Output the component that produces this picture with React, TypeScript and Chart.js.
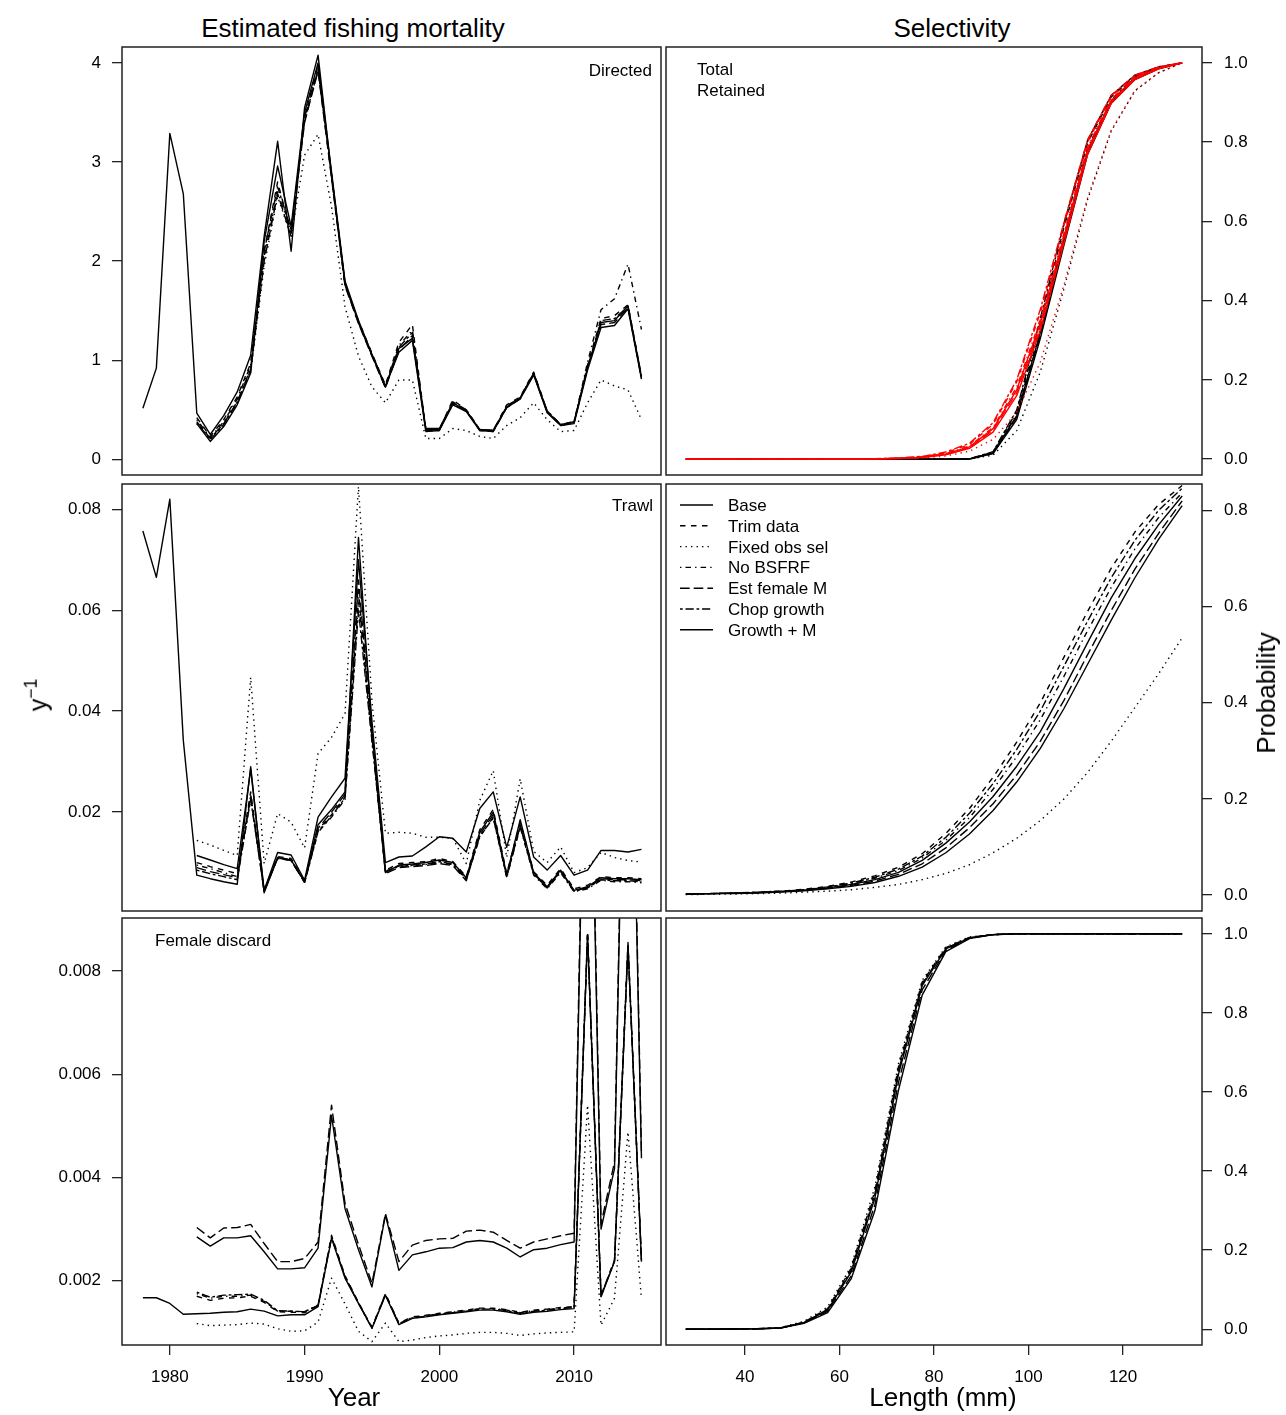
import React, { useEffect, useRef } from "react";
import { Chart, registerables } from "chart.js";
Chart.register(...registerables);

const FONT = '"Liberation Sans", Arial, Helvetica, sans-serif';

// ---------- categories / ticks ----------
const YEARS = [1978, 1979, 1980, 1981, 1982, 1983, 1984, 1985, 1986, 1987, 1988, 1989, 1990, 1991, 1992, 1993, 1994, 1995, 1996, 1997, 1998, 1999, 2000, 2001, 2002, 2003, 2004, 2005, 2006, 2007, 2008, 2009, 2010, 2011, 2012, 2013, 2014, 2015];
const LENGTHS = [27.5, 32.5, 37.5, 42.5, 47.5, 52.5, 57.5, 62.5, 67.5, 72.5, 77.5, 82.5, 87.5, 92.5, 97.5, 102.5, 107.5, 112.5, 117.5, 122.5, 127.5, 132.5];
const SERIES_NAMES = ["Base", "Trim data", "Fixed obs sel", "No BSFRF", "Est female M", "Chop growth", "Growth + M"];
const YEAR_TICKS = [1980, 1990, 2000, 2010];
const LEN_TICKS = [40, 60, 80, 100, 120];
const DIR_TICKS = [0, 1, 2, 3, 4];
const TRW_TICKS = [0.02, 0.04, 0.06, 0.08];
const FEM_TICKS = [0.002, 0.004, 0.006, 0.008];
const SEL_TICKS_A = [0, 0.2, 0.4, 0.6, 0.8, 1.0];
const SEL_TICKS_B = [0, 0.2, 0.4, 0.6, 0.8];

const N = null;

// ---------- Directed fishery F ----------
const DIR_BASE = [0.515, 0.92, 3.29, 2.68, 0.465, 0.25, 0.44, 0.68, 1.05, 2.25, 3.21, 2.10, 3.55, 4.08, 2.88, 1.78, 1.38, 1.05, 0.73, 1.12, 1.22, 0.31, 0.31, 0.57, 0.49, 0.30, 0.29, 0.53, 0.62, 0.87, 0.48, 0.35, 0.38, 0.92, 1.38, 1.40, 1.55, 0.83];
const DIR_TRIM = [N, N, N, N, 0.42, 0.23, 0.40, 0.63, 0.97, 2.10, 2.80, 2.28, 3.45, 3.98, 2.85, 1.76, 1.40, 1.07, 0.75, 1.18, 1.36, 0.30, 0.30, 0.60, 0.50, 0.30, 0.29, 0.55, 0.63, 0.88, 0.49, 0.35, 0.37, 0.95, 1.42, 1.45, 1.56, 0.84];
const DIR_FIXED = [N, N, N, N, 0.36, 0.20, 0.37, 0.58, 0.88, 1.95, 2.65, 2.25, 3.07, 3.28, 2.55, 1.54, 1.04, 0.73, 0.57, 0.80, 0.80, 0.21, 0.21, 0.31, 0.29, 0.23, 0.21, 0.34, 0.42, 0.57, 0.40, 0.28, 0.29, 0.57, 0.80, 0.74, 0.70, 0.40];
const DIR_NOBSFRF = [N, N, N, N, 0.40, 0.22, 0.38, 0.61, 0.95, 2.05, 2.70, 2.30, 3.45, 3.95, 2.86, 1.77, 1.39, 1.06, 0.74, 1.15, 1.30, 0.30, 0.30, 0.58, 0.50, 0.30, 0.29, 0.54, 0.62, 0.87, 0.49, 0.35, 0.38, 0.98, 1.51, 1.62, 1.97, 1.31];
const DIR_ESTM = [N, N, N, N, 0.38, 0.21, 0.36, 0.58, 0.90, 2.00, 2.68, 2.25, 3.40, 3.92, 2.84, 1.75, 1.37, 1.04, 0.72, 1.10, 1.25, 0.29, 0.29, 0.58, 0.49, 0.29, 0.28, 0.52, 0.61, 0.86, 0.48, 0.34, 0.37, 0.93, 1.36, 1.38, 1.53, 0.82];
const DIR_CHOP = [N, N, N, N, 0.37, 0.20, 0.35, 0.57, 0.92, 2.10, 2.75, 2.32, 3.42, 3.93, 2.87, 1.76, 1.38, 1.05, 0.73, 1.13, 1.28, 0.30, 0.30, 0.56, 0.49, 0.30, 0.29, 0.53, 0.62, 0.86, 0.48, 0.35, 0.37, 0.93, 1.40, 1.42, 1.54, 0.84];
const DIR_GROWM = [N, N, N, N, 0.36, 0.18, 0.33, 0.55, 0.87, 2.20, 2.96, 2.35, 3.50, 4.00, 2.90, 1.80, 1.40, 1.06, 0.74, 1.08, 1.20, 0.28, 0.29, 0.55, 0.48, 0.29, 0.28, 0.52, 0.61, 0.85, 0.47, 0.34, 0.36, 0.90, 1.33, 1.35, 1.52, 0.81];

// ---------- Trawl F ----------
const TRW_BASE = [0.0757, 0.0665, 0.0820, 0.0342, 0.0075, 0.0068, 0.0062, 0.0057, 0.0290, 0.0040, 0.0110, 0.0105, 0.0062, 0.0175, 0.0205, 0.0240, 0.0744, 0.0360, 0.0080, 0.0095, 0.0097, 0.0100, 0.0105, 0.0100, 0.0070, 0.0160, 0.0200, 0.0075, 0.0185, 0.0080, 0.0052, 0.0085, 0.0045, 0.0052, 0.0070, 0.0068, 0.0068, 0.0066];
const TRW_TRIM = [N, N, N, N, 0.0100, 0.0092, 0.0085, 0.0078, 0.0240, 0.0042, 0.0112, 0.0108, 0.0063, 0.0165, 0.0195, 0.0230, 0.0640, 0.0350, 0.0085, 0.0098, 0.0100, 0.0102, 0.0108, 0.0102, 0.0072, 0.0165, 0.0205, 0.0078, 0.0180, 0.0082, 0.0055, 0.0088, 0.0048, 0.0055, 0.0072, 0.0070, 0.0070, 0.0068];
const TRW_FIXED = [N, N, N, N, 0.0144, 0.0135, 0.0124, 0.0114, 0.0467, 0.0098, 0.0197, 0.0180, 0.0129, 0.0316, 0.0348, 0.0395, 0.0845, 0.0420, 0.0158, 0.0160, 0.0158, 0.0150, 0.0150, 0.0148, 0.0098, 0.0223, 0.0282, 0.0110, 0.0266, 0.0122, 0.0100, 0.0131, 0.0080, 0.0090, 0.0120, 0.0110, 0.0104, 0.0101];
const TRW_NOBSFRF = [N, N, N, N, 0.0095, 0.0088, 0.0080, 0.0072, 0.0235, 0.0045, 0.0110, 0.0106, 0.0060, 0.0160, 0.0190, 0.0225, 0.0620, 0.0345, 0.0083, 0.0092, 0.0094, 0.0096, 0.0100, 0.0096, 0.0066, 0.0150, 0.0190, 0.0070, 0.0170, 0.0075, 0.0048, 0.0080, 0.0042, 0.0048, 0.0065, 0.0062, 0.0062, 0.0060];
const TRW_ESTM = [N, N, N, N, 0.0090, 0.0082, 0.0076, 0.0070, 0.0230, 0.0043, 0.0108, 0.0104, 0.0061, 0.0168, 0.0200, 0.0235, 0.0660, 0.0355, 0.0078, 0.0090, 0.0092, 0.0094, 0.0098, 0.0094, 0.0064, 0.0155, 0.0195, 0.0072, 0.0175, 0.0078, 0.0050, 0.0083, 0.0044, 0.0050, 0.0068, 0.0066, 0.0066, 0.0064];
const TRW_CHOP = [N, N, N, N, 0.0085, 0.0078, 0.0072, 0.0066, 0.0225, 0.0044, 0.0109, 0.0104, 0.0061, 0.0162, 0.0192, 0.0228, 0.0600, 0.0340, 0.0082, 0.0093, 0.0095, 0.0097, 0.0102, 0.0097, 0.0068, 0.0152, 0.0188, 0.0073, 0.0172, 0.0077, 0.0050, 0.0082, 0.0043, 0.0050, 0.0066, 0.0064, 0.0064, 0.0062];
const TRW_GROWM = [N, N, N, N, 0.0114, 0.0105, 0.0096, 0.0088, 0.0285, 0.0045, 0.0120, 0.0115, 0.0065, 0.0190, 0.0230, 0.0267, 0.0700, 0.0380, 0.0100, 0.0111, 0.0113, 0.0131, 0.0151, 0.0148, 0.0121, 0.0207, 0.0240, 0.0130, 0.0230, 0.0111, 0.0085, 0.0114, 0.0075, 0.0085, 0.0124, 0.0124, 0.0121, 0.0126];

// ---------- Female discard F ----------
const FEM_BASE = [0.00167, 0.00167, 0.00156, 0.00135, 0.00136, 0.00137, 0.00139, 0.00140, 0.00145, 0.00141, 0.00132, 0.00134, 0.00134, 0.00150, 0.00282, 0.00205, 0.00156, 0.00108, 0.00172, 0.00115, 0.00127, 0.00130, 0.00134, 0.00137, 0.00140, 0.00143, 0.00143, 0.00140, 0.00135, 0.00139, 0.00141, 0.00144, 0.00146, 0.00870, 0.00169, 0.00237, 0.00850, 0.00237];
const FEM_TRIM = [N, N, N, N, 0.00170, 0.00162, 0.00166, 0.00167, 0.00170, 0.00158, 0.00140, 0.00139, 0.00138, 0.00152, 0.00288, 0.00210, 0.00158, 0.00110, 0.00175, 0.00118, 0.00130, 0.00133, 0.00137, 0.00140, 0.00143, 0.00147, 0.00147, 0.00144, 0.00139, 0.00143, 0.00145, 0.00148, 0.00150, 0.00875, 0.00172, 0.00240, 0.00855, 0.00240];
const FEM_FIXED = [N, N, N, N, 0.00117, 0.00113, 0.00114, 0.00115, 0.00118, 0.00116, 0.00107, 0.00102, 0.00103, 0.00120, 0.00205, 0.00155, 0.00102, 0.00082, 0.00118, 0.00082, 0.00085, 0.00090, 0.00093, 0.00095, 0.00098, 0.00100, 0.00100, 0.00098, 0.00094, 0.00097, 0.00099, 0.00100, 0.00101, 0.00540, 0.00114, 0.00166, 0.00488, 0.00165];
const FEM_NOBSFRF = [N, N, N, N, 0.00175, 0.00166, 0.00170, 0.00170, 0.00172, 0.00160, 0.00141, 0.00141, 0.00140, 0.00153, 0.00285, 0.00208, 0.00157, 0.00109, 0.00174, 0.00117, 0.00129, 0.00132, 0.00136, 0.00139, 0.00142, 0.00146, 0.00146, 0.00143, 0.00138, 0.00142, 0.00144, 0.00147, 0.00149, 0.00872, 0.00171, 0.00239, 0.00852, 0.00239];
const FEM_ESTM = [N, N, N, N, 0.00303, 0.00283, 0.00302, 0.00303, 0.00309, 0.00272, 0.00237, 0.00237, 0.00243, 0.00275, 0.00540, 0.00350, 0.00270, 0.00195, 0.00330, 0.00237, 0.00269, 0.00278, 0.00281, 0.00282, 0.00296, 0.00298, 0.00294, 0.00278, 0.00263, 0.00275, 0.00281, 0.00287, 0.00292, 0.01650, 0.00310, 0.00430, 0.01750, 0.00445];
const FEM_CHOP = [N, N, N, N, 0.00178, 0.00168, 0.00172, 0.00173, 0.00174, 0.00162, 0.00142, 0.00141, 0.00140, 0.00152, 0.00284, 0.00207, 0.00156, 0.00108, 0.00173, 0.00116, 0.00128, 0.00131, 0.00135, 0.00138, 0.00141, 0.00145, 0.00145, 0.00142, 0.00137, 0.00141, 0.00143, 0.00146, 0.00148, 0.00868, 0.00170, 0.00238, 0.00848, 0.00238];
const FEM_GROWM = [N, N, N, N, 0.00285, 0.00267, 0.00283, 0.00283, 0.00287, 0.00256, 0.00223, 0.00223, 0.00225, 0.00263, 0.00520, 0.00340, 0.00260, 0.00188, 0.00327, 0.00220, 0.00250, 0.00256, 0.00263, 0.00264, 0.00275, 0.00278, 0.00275, 0.00263, 0.00246, 0.00260, 0.00263, 0.00270, 0.00275, 0.01600, 0.00300, 0.00417, 0.01700, 0.00437];

// ---------- Directed selectivity: total (red) ----------
const TOT_BASE = [0, 0, 0, 0, 0, 0, 0.0001, 0.0003, 0.0008, 0.002, 0.005, 0.013, 0.031, 0.077, 0.175, 0.343, 0.562, 0.781, 0.905, 0.962, 0.987, 1.0];
const TOT_TRIM = [0, 0, 0, 0, 0, 0, 0.0001, 0.0004, 0.001, 0.0025, 0.006, 0.016, 0.037, 0.088, 0.195, 0.370, 0.590, 0.800, 0.915, 0.967, 0.989, 1.0];
const TOT_FIXED = [0, 0, 0, 0, 0, 0, 0, 0.0001, 0.0005, 0.0013, 0.0032, 0.008, 0.020, 0.050, 0.118, 0.245, 0.440, 0.660, 0.830, 0.930, 0.975, 1.0];
const TOT_NOBSFRF = [0, 0, 0, 0, 0, 0, 0.0001, 0.0003, 0.0009, 0.0022, 0.0055, 0.014, 0.033, 0.080, 0.182, 0.352, 0.570, 0.787, 0.908, 0.964, 0.988, 1.0];
const TOT_ESTM = [0, 0, 0, 0, 0, 0, 0.0001, 0.0003, 0.0008, 0.002, 0.005, 0.012, 0.029, 0.073, 0.168, 0.335, 0.555, 0.776, 0.902, 0.960, 0.986, 1.0];
const TOT_CHOP = [0, 0, 0, 0, 0, 0, 0.0001, 0.0004, 0.0011, 0.0028, 0.007, 0.018, 0.040, 0.092, 0.200, 0.378, 0.598, 0.806, 0.918, 0.969, 0.990, 1.0];
const TOT_GROWM = [0, 0, 0, 0, 0, 0, 0, 0.0002, 0.0006, 0.0016, 0.004, 0.011, 0.027, 0.068, 0.160, 0.325, 0.545, 0.770, 0.898, 0.958, 0.985, 1.0];

// ---------- Directed selectivity: retained (black) ----------
const RET_BASE = [0, 0, 0, 0, 0, 0, 0, 0, 0, 0, 0, 0, 0.0005, 0.016, 0.110, 0.320, 0.555, 0.779, 0.904, 0.962, 0.987, 1.0];
const RET_TRIM = [0, 0, 0, 0, 0, 0, 0, 0, 0, 0, 0, 0, 0.0006, 0.018, 0.120, 0.345, 0.585, 0.798, 0.914, 0.967, 0.989, 1.0];
const RET_FIXED = [0, 0, 0, 0, 0, 0, 0, 0, 0, 0, 0, 0, 0.0003, 0.010, 0.072, 0.220, 0.430, 0.655, 0.828, 0.929, 0.975, 1.0];
const RET_NOBSFRF = [0, 0, 0, 0, 0, 0, 0, 0, 0, 0, 0, 0, 0.0005, 0.017, 0.114, 0.330, 0.565, 0.786, 0.907, 0.964, 0.988, 1.0];
const RET_ESTM = [0, 0, 0, 0, 0, 0, 0, 0, 0, 0, 0, 0, 0.0005, 0.015, 0.106, 0.315, 0.550, 0.775, 0.902, 0.960, 0.986, 1.0];
const RET_CHOP = [0, 0, 0, 0, 0, 0, 0, 0, 0, 0, 0, 0, 0.0006, 0.019, 0.124, 0.355, 0.595, 0.805, 0.918, 0.969, 0.990, 1.0];
const RET_GROWM = [0, 0, 0, 0, 0, 0, 0, 0, 0, 0, 0, 0, 0.0004, 0.014, 0.100, 0.305, 0.540, 0.769, 0.898, 0.958, 0.985, 1.0];

// ---------- Trawl selectivity ----------
const STR_BASE = [0.002, 0.003, 0.004, 0.005, 0.007, 0.010, 0.015, 0.022, 0.032, 0.047, 0.072, 0.108, 0.152, 0.205, 0.268, 0.340, 0.430, 0.525, 0.618, 0.700, 0.770, 0.830];
const STR_TRIM = [0.002, 0.003, 0.004, 0.006, 0.008, 0.012, 0.018, 0.027, 0.040, 0.058, 0.086, 0.128, 0.180, 0.245, 0.318, 0.400, 0.495, 0.590, 0.680, 0.755, 0.812, 0.852];
const STR_FIXED = [0.001, 0.0015, 0.002, 0.003, 0.004, 0.006, 0.008, 0.011, 0.016, 0.022, 0.032, 0.045, 0.063, 0.088, 0.118, 0.155, 0.200, 0.255, 0.320, 0.390, 0.460, 0.535];
const STR_NOBSFRF = [0.002, 0.003, 0.004, 0.005, 0.007, 0.011, 0.016, 0.024, 0.035, 0.051, 0.077, 0.114, 0.161, 0.220, 0.288, 0.365, 0.455, 0.550, 0.640, 0.720, 0.785, 0.837];
const STR_ESTM = [0.002, 0.003, 0.004, 0.005, 0.007, 0.010, 0.014, 0.020, 0.029, 0.043, 0.065, 0.098, 0.140, 0.190, 0.250, 0.320, 0.405, 0.500, 0.592, 0.678, 0.752, 0.820];
const STR_CHOP = [0.002, 0.003, 0.004, 0.006, 0.008, 0.011, 0.017, 0.025, 0.037, 0.054, 0.081, 0.120, 0.170, 0.232, 0.303, 0.383, 0.476, 0.570, 0.660, 0.738, 0.800, 0.846];
const STR_GROWM = [0.002, 0.003, 0.003, 0.004, 0.006, 0.009, 0.013, 0.018, 0.026, 0.039, 0.058, 0.088, 0.127, 0.176, 0.235, 0.305, 0.388, 0.480, 0.572, 0.660, 0.740, 0.810];

// ---------- Female discard selectivity ----------
const SFE_BASE = [0, 0, 0.0005, 0.001, 0.003, 0.017, 0.048, 0.145, 0.332, 0.645, 0.869, 0.962, 0.990, 0.998, 1.0, 1.0, 1.0, 1.0, 1.0, 1.0, 1.0, 1.0];
const SFE_TRIM = [0, 0, 0.0005, 0.001, 0.003, 0.018, 0.052, 0.155, 0.350, 0.665, 0.878, 0.965, 0.991, 0.998, 1.0, 1.0, 1.0, 1.0, 1.0, 1.0, 1.0, 1.0];
const SFE_FIXED = [0, 0, 0.0006, 0.0012, 0.004, 0.020, 0.056, 0.160, 0.360, 0.672, 0.882, 0.967, 0.992, 0.998, 1.0, 1.0, 1.0, 1.0, 1.0, 1.0, 1.0, 1.0];
const SFE_NOBSFRF = [0, 0, 0.0005, 0.001, 0.003, 0.017, 0.049, 0.148, 0.338, 0.652, 0.872, 0.963, 0.990, 0.998, 1.0, 1.0, 1.0, 1.0, 1.0, 1.0, 1.0, 1.0];
const SFE_ESTM = [0, 0, 0.0005, 0.001, 0.003, 0.016, 0.045, 0.135, 0.315, 0.625, 0.858, 0.958, 0.989, 0.998, 1.0, 1.0, 1.0, 1.0, 1.0, 1.0, 1.0, 1.0];
const SFE_CHOP = [0, 0, 0.0005, 0.001, 0.003, 0.017, 0.050, 0.150, 0.342, 0.655, 0.874, 0.963, 0.990, 0.998, 1.0, 1.0, 1.0, 1.0, 1.0, 1.0, 1.0, 1.0];
const SFE_GROWM = [0, 0, 0.0004, 0.0009, 0.0028, 0.015, 0.042, 0.128, 0.300, 0.605, 0.845, 0.955, 0.988, 0.998, 1.0, 1.0, 1.0, 1.0, 1.0, 1.0, 1.0, 1.0];

// ---------- styles ----------
const DASHES: number[][] = [
  [],                       // solid
  [5.5, 5.5],               // dashed
  [1.4, 4.1],               // dotted
  [1.4, 4.1, 5.5, 4.1],     // dotdash
  [9.6, 4.1],               // longdash
  [2.75, 2.75, 8.25, 2.75], // twodash
  [],                       // solid
];
const LINE_W = 1.4;

type Series = (number | null)[];

function makeSets(xs: number[], series: Series[], color: string) {
  return series.map((s, i) => ({
    label: SERIES_NAMES[i],
    data: xs.map((x, j) => ({ x, y: s[j] })).filter((p) => p.y !== null),
    borderColor: color,
    borderWidth: LINE_W,
    borderDash: DASHES[i],
    borderJoinStyle: "round" as const,
    pointRadius: 0,
    fill: false,
    tension: 0,
  }));
}

const boxPlugin = {
  id: "box",
  afterDatasetsDraw(chart: any) {
    const { ctx, chartArea } = chart;
    ctx.save();
    ctx.setLineDash([]);
    ctx.strokeStyle = "#222";
    ctx.lineWidth = 1.5;
    ctx.strokeRect(chartArea.left, chartArea.top, chartArea.right - chartArea.left, chartArea.bottom - chartArea.top);
    ctx.restore();
  },
};

const legendPlugin = {
  id: "legendLines",
  afterDatasetsDraw(chart: any) {
    const { ctx, chartArea } = chart;
    ctx.save();
    ctx.strokeStyle = "#000";
    ctx.lineWidth = LINE_W;
    SERIES_NAMES.forEach((_, i) => {
      const y = chartArea.top + 21 + i * 20.8;
      ctx.setLineDash(DASHES[i]);
      ctx.beginPath();
      ctx.moveTo(chartArea.left + 14, y);
      ctx.lineTo(chartArea.left + 47, y);
      ctx.stroke();
    });
    ctx.restore();
  },
};

type PanelSpec = {
  left: number; top: number; width: number; height: number;
  datasets: any[];
  xMin: number; xMax: number; xTicks: number[]; showX: boolean;
  yMin: number; yMax: number; yTicks: number[]; yDec: number; yPos: "left" | "right";
  yAxisW: number; xAxisH: number;
  pad: { left: number; right: number; top: number; bottom: number };
  extra?: any[];
};

const tickFont = { family: FONT, size: 17 };

function zeroPad(axis: any) {
  axis.paddingTop = 0;
  axis.paddingBottom = 0;
  axis.paddingLeft = 0;
  axis.paddingRight = 0;
}

function Panel(p: PanelSpec) {
  const ref = useRef<HTMLCanvasElement>(null);
  useEffect(() => {
    const grid = { drawOnChartArea: false, drawTicks: true, tickLength: 10, color: "#222", lineWidth: 1.3 };
    const xScale: any = {
      type: "linear", min: p.xMin, max: p.xMax, display: p.showX, position: "bottom",
      grid, border: { display: false },
      ticks: { font: tickFont, color: "#000", padding: 12, maxRotation: 0, autoSkip: false, callback: (v: number) => String(v) },
      afterBuildTicks: (axis: any) => { axis.ticks = p.xTicks.map((v) => ({ value: v })); },
      afterFit: (axis: any) => { zeroPad(axis); if (p.showX) axis.height = p.xAxisH; },
    };
    const chart = new Chart(ref.current as HTMLCanvasElement, {
      type: "line",
      data: { datasets: p.datasets },
      options: {
        responsive: false,
        maintainAspectRatio: false,
        animation: false,
        devicePixelRatio: 1,
        events: [],
        layout: { padding: p.pad },
        plugins: { legend: { display: false }, tooltip: { enabled: false } },
        scales: {
          x: xScale,
          y: {
            type: "linear", position: p.yPos, min: p.yMin, max: p.yMax,
            grid, border: { display: false },
            ticks: { font: tickFont, color: "#000", padding: p.yPos === "left" ? 11 : 12, callback: (v: number) => Number(v).toFixed(p.yDec) },
            afterBuildTicks: (axis: any) => { axis.ticks = p.yTicks.map((v) => ({ value: v })); },
            afterFit: (axis: any) => { zeroPad(axis); axis.width = p.yAxisW; },
          } as any,
        },
      } as any,
      plugins: [boxPlugin, ...(p.extra || [])],
    });
    return () => chart.destroy();
  }, []);
  return (
    <canvas
      ref={ref}
      width={p.width}
      height={p.height}
      style={{ position: "absolute", left: p.left, top: p.top, width: p.width, height: p.height }}
    />
  );
}

type TextProps = { x: number; y: number; text: React.ReactNode; size: number; align?: "left" | "right" | "center"; rotate?: boolean };
function T({ x, y, text, size, align = "left", rotate = false }: TextProps) {
  const tx = align === "left" ? "0" : align === "right" ? "-100%" : "-50%";
  const transform = rotate ? "translate(-50%, -50%) rotate(-90deg)" : `translate(${tx}, -50%)`;
  return (
    <div style={{ position: "absolute", left: x, top: y, transform, fontSize: size, lineHeight: 1, whiteSpace: "nowrap", fontFamily: FONT, color: "#000" }}>
      {text}
    </div>
  );
}

const YEAR_MIN = 1976.45, YEAR_MAX = 2016.45;
const LEN_MIN = 23.3, LEN_MAX = 136.7;

export default function App() {
  const L = { left: 20, width: 645, yAxisW: 102, pad: (b: number) => ({ left: 0, right: 4, top: 4, bottom: b }) };
  const R = { left: 662, width: 600, yAxisW: 60, pad: (b: number) => ({ left: 4, right: 0, top: 4, bottom: b }) };

  const dirSets = makeSets(YEARS, [DIR_BASE, DIR_TRIM, DIR_FIXED, DIR_NOBSFRF, DIR_ESTM, DIR_CHOP, DIR_GROWM], "#000");
  const trwSets = makeSets(YEARS, [TRW_BASE, TRW_TRIM, TRW_FIXED, TRW_NOBSFRF, TRW_ESTM, TRW_CHOP, TRW_GROWM], "#000");
  const femSets = makeSets(YEARS, [FEM_BASE, FEM_TRIM, FEM_FIXED, FEM_NOBSFRF, FEM_ESTM, FEM_CHOP, FEM_GROWM], "#000");
  const selDirSets = [
    ...makeSets(LENGTHS, [TOT_BASE, TOT_TRIM, TOT_FIXED, TOT_NOBSFRF, TOT_ESTM, TOT_CHOP, TOT_GROWM], "#ff0000"),
    ...makeSets(LENGTHS, [RET_BASE, RET_TRIM, RET_FIXED, RET_NOBSFRF, RET_ESTM, RET_CHOP, RET_GROWM], "#000"),
  ];
  const selTrwSets = makeSets(LENGTHS, [STR_BASE, STR_TRIM, STR_FIXED, STR_NOBSFRF, STR_ESTM, STR_CHOP, STR_GROWM], "#000");
  const selFemSets = makeSets(LENGTHS, [SFE_BASE, SFE_TRIM, SFE_FIXED, SFE_NOBSFRF, SFE_ESTM, SFE_CHOP, SFE_GROWM], "#000");

  const legendYs = SERIES_NAMES.map((_, i) => 505 + i * 20.8);

  return (
    <div style={{ position: "absolute", left: 0, top: 0, width: 1286, height: 1415, background: "#fff", fontFamily: FONT }}>
      {/* Row 1 */}
      <Panel left={L.left} top={43} width={L.width} height={436} datasets={dirSets}
        xMin={YEAR_MIN} xMax={YEAR_MAX} xTicks={YEAR_TICKS} showX={false}
        yMin={-0.159} yMax={4.162} yTicks={DIR_TICKS} yDec={0} yPos="left" yAxisW={L.yAxisW} xAxisH={0} pad={L.pad(4)} />
      <Panel left={R.left} top={43} width={R.width} height={436} datasets={selDirSets}
        xMin={LEN_MIN} xMax={LEN_MAX} xTicks={LEN_TICKS} showX={false}
        yMin={-0.04} yMax={1.04} yTicks={SEL_TICKS_A} yDec={1} yPos="right" yAxisW={R.yAxisW} xAxisH={0} pad={R.pad(4)} />
      {/* Row 2 */}
      <Panel left={L.left} top={480} width={L.width} height={435} datasets={trwSets}
        xMin={YEAR_MIN} xMax={YEAR_MAX} xTicks={YEAR_TICKS} showX={false}
        yMin={0.0004} yMax={0.085} yTicks={TRW_TICKS} yDec={2} yPos="left" yAxisW={L.yAxisW} xAxisH={0} pad={L.pad(4)} />
      <Panel left={R.left} top={480} width={R.width} height={435} datasets={selTrwSets}
        xMin={LEN_MIN} xMax={LEN_MAX} xTicks={LEN_TICKS} showX={false}
        yMin={-0.0332} yMax={0.855} yTicks={SEL_TICKS_B} yDec={1} yPos="right" yAxisW={R.yAxisW} xAxisH={0} pad={R.pad(4)}
        extra={[legendPlugin]} />
      {/* Row 3 */}
      <Panel left={L.left} top={914} width={L.width} height={479} datasets={femSets}
        xMin={YEAR_MIN} xMax={YEAR_MAX} xTicks={YEAR_TICKS} showX={true}
        yMin={0.000755} yMax={0.009025} yTicks={FEM_TICKS} yDec={3} yPos="left" yAxisW={L.yAxisW} xAxisH={48} pad={L.pad(0)} />
      <Panel left={R.left} top={914} width={R.width} height={479} datasets={selFemSets}
        xMin={LEN_MIN} xMax={LEN_MAX} xTicks={LEN_TICKS} showX={true}
        yMin={-0.04} yMax={1.04} yTicks={SEL_TICKS_A} yDec={1} yPos="right" yAxisW={R.yAxisW} xAxisH={48} pad={R.pad(0)} />

      {/* Titles and axis labels */}
      <T x={353} y={28} text="Estimated fishing mortality" size={26} align="center" />
      <T x={952} y={28} text="Selectivity" size={26} align="center" />
      <T x={354} y={1397} text="Year" size={26} align="center" />
      <T x={943} y={1397} text="Length (mm)" size={26} align="center" />
      <T x={1266} y={693} text="Probability" size={26} rotate />
      <T x={36} y={695} text={<span>y<sup style={{ fontSize: "0.7em", verticalAlign: "0.6em" }}>−1</sup></span>} size={25} rotate />

      {/* Panel labels */}
      <T x={652} y={69.5} text="Directed" size={17} align="right" />
      <T x={653} y={505} text="Trawl" size={17} align="right" />
      <T x={155} y={940} text="Female discard" size={17} align="left" />
      <T x={697} y={69} text="Total" size={17} align="left" />
      <T x={697} y={90} text="Retained" size={17} align="left" />

      {/* Legend labels */}
      {SERIES_NAMES.map((name, i) => (
        <T key={name} x={728} y={legendYs[i]} text={name} size={17} align="left" />
      ))}
    </div>
  );
}
